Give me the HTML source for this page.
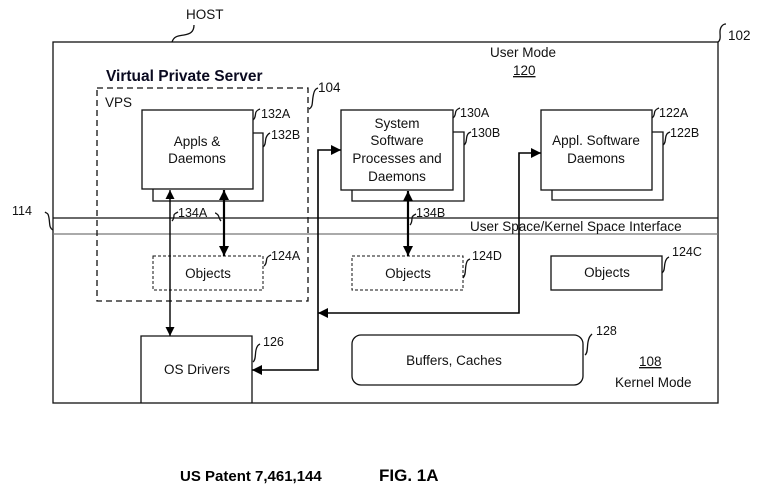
<!DOCTYPE html>
<html><head><meta charset="utf-8"><style>
html,body{margin:0;padding:0;background:#fff;}
svg{display:block;}
text{font-family:"Liberation Sans",Arial,sans-serif;font-size:13.5px;fill:#111;}
</style></head><body>
<svg width="783" height="504" viewBox="0 0 783 504" xmlns="http://www.w3.org/2000/svg">
<defs>
<marker id="a" viewBox="0 0 10 10" refX="10" refY="5" markerWidth="9" markerHeight="9" markerUnits="userSpaceOnUse" orient="auto-start-reverse"><path d="M0,0L10,5L0,10z" fill="#000"/></marker>
<marker id="b" viewBox="0 0 10 10" refX="10" refY="5" markerWidth="10" markerHeight="10" markerUnits="userSpaceOnUse" orient="auto-start-reverse"><path d="M0,0L10,5L0,10z" fill="#000"/></marker>
</defs>
<g fill="none" stroke="#111" stroke-width="1.3">
<rect x="53" y="42" width="665" height="361"/>
<line x1="53" y1="218" x2="718" y2="218"/>
<line x1="53" y1="234" x2="718" y2="234" stroke="#777"/>
<path d="M172,42 c2,-6 6,-6 12,-7 s10,-3 10,-10"/>
<path d="M718,42 c3,-2 2,-6 2,-10 s2,-8 6,-8"/>
<path d="M53,230 c-4,-2 -3,-6 -4,-12 s-2,-4 -4,-6"/>
<rect x="97" y="88" width="211" height="213" stroke-dasharray="6,4"/>
<path d="M309,109 c4,-2 3,-6 4,-12 s2,-8 5,-9"/>
<polyline points="253,133 263,133 263,201 153,201 153,189"/>
<polyline points="453,132 464,132 464,201 352,201 352,190"/>
<polyline points="652,132 663,132 663,200 552,200 552,190"/>
<rect x="142" y="110" width="111" height="79" fill="#fff"/>
<rect x="341" y="110" width="112" height="80" fill="#fff"/>
<rect x="541" y="110" width="111" height="80" fill="#fff"/>
<rect x="153" y="256" width="110" height="34" stroke-dasharray="3,2" stroke-width="1"/>
<rect x="352" y="256" width="111" height="34" stroke-dasharray="3,2" stroke-width="1"/>
<rect x="551" y="256" width="111" height="34"/>
<polyline points="141,403 141,336 252,336 252,403"/>
<rect x="352" y="335" width="231" height="50" rx="9"/>
<path d="M253,120 c3,-2 2,-6 3,-8 s2,-2 4,-3"/>
<path d="M263,147 c3,-2 2,-6 3,-9 s2,-4 4,-5"/>
<path d="M453,118 c3,-2 2,-5 3,-7 s2,-2 4,-3"/>
<path d="M464,145 c3,-2 2,-6 3,-9 s2,-3 4,-4"/>
<path d="M652,118 c3,-2 2,-5 3,-7 s2,-2 4,-3"/>
<path d="M663,145 c3,-2 2,-6 3,-9 s2,-3 4,-4"/>
<path d="M172,221 c2,-2 2,-5 2,-6 s2,-2 4,-3"/>
<path d="M221,221 c-2,-2 -2,-5 -3,-6 s-2,-2 -3,-2"/>
<path d="M410,225 c2,-2 2,-5 2,-7 s2,-3 4,-4"/>
<path d="M264,266 c3,-2 2,-6 3,-8 s2,-2 4,-3"/>
<path d="M463,278 c3,-3 2,-8 3,-13 s2,-5 4,-6"/>
<path d="M662,273 c3,-2 2,-6 3,-10 s2,-5 4,-6"/>
<path d="M253,362 c3,-2 2,-8 3,-12 s2,-5 4,-6"/>
<path d="M585,355 c3,-2 2,-8 3,-13 s2,-6 4,-8"/>
</g>
<g stroke="#000" fill="none">
<line x1="170" y1="190" x2="170" y2="336" stroke-width="1.4" marker-start="url(#a)" marker-end="url(#a)"/>
<line x1="224" y1="190" x2="224" y2="256" stroke-width="2.2" marker-start="url(#b)" marker-end="url(#b)"/>
<line x1="408" y1="191" x2="408" y2="256" stroke-width="2.2" marker-start="url(#b)" marker-end="url(#b)"/>
<polyline points="341,150 318,150 318,370 252,370" stroke-width="1.6" marker-start="url(#b)" marker-end="url(#b)"/>
<polyline points="541,153 519,153 519,313 318,313" stroke-width="1.6" marker-start="url(#b)" marker-end="url(#b)"/>
</g>
<text x="186" y="19">HOST</text>
<text x="490" y="57">User Mode</text>
<text x="513" y="75" text-decoration="underline">120</text>
<text x="728" y="40">102</text>
<text x="106" y="81" style="font-size:15.5px;font-weight:bold;fill:#0a0a20">Virtual Private Server</text>
<text x="105" y="107">VPS</text>
<text x="318" y="92">104</text>
<text x="197" y="146" text-anchor="middle">Appls &amp;</text>
<text x="197" y="163" text-anchor="middle">Daemons</text>
<text x="261" y="118" style="font-size:12.5px">132A</text>
<text x="271" y="139" style="font-size:12.5px">132B</text>
<text x="397" y="128" text-anchor="middle">System</text>
<text x="397" y="145" text-anchor="middle">Software</text>
<text x="397" y="163" text-anchor="middle">Processes and</text>
<text x="397" y="181" text-anchor="middle">Daemons</text>
<text x="460" y="117" style="font-size:12.5px">130A</text>
<text x="471" y="137" style="font-size:12.5px">130B</text>
<text x="596" y="145" text-anchor="middle">Appl. Software</text>
<text x="596" y="163" text-anchor="middle">Daemons</text>
<text x="659" y="117" style="font-size:12.5px">122A</text>
<text x="670" y="137" style="font-size:12.5px">122B</text>
<text x="178" y="217" style="font-size:12.5px">134A</text>
<text x="416" y="217" style="font-size:12.5px">134B</text>
<text x="12" y="215" style="font-size:12.5px">114</text>
<text x="470" y="231">User Space/Kernel Space Interface</text>
<text x="208" y="278" text-anchor="middle">Objects</text>
<text x="408" y="278" text-anchor="middle">Objects</text>
<text x="607" y="277" text-anchor="middle">Objects</text>
<text x="271" y="260" style="font-size:12.5px">124A</text>
<text x="472" y="260" style="font-size:12.5px">124D</text>
<text x="672" y="256" style="font-size:12.5px">124C</text>
<text x="197" y="374" text-anchor="middle">OS Drivers</text>
<text x="263" y="346" style="font-size:12.5px">126</text>
<text x="454" y="365" text-anchor="middle">Buffers, Caches</text>
<text x="596" y="335" style="font-size:12.5px">128</text>
<text x="639" y="366" text-decoration="underline">108</text>
<text x="615" y="387">Kernel Mode</text>
<text x="180" y="481" style="font-size:15px;font-weight:bold;fill:#000">US Patent 7,461,144</text>
<text x="379" y="481" style="font-size:17px;font-weight:bold;fill:#000">FIG. 1A</text>
</svg>
</body></html>
